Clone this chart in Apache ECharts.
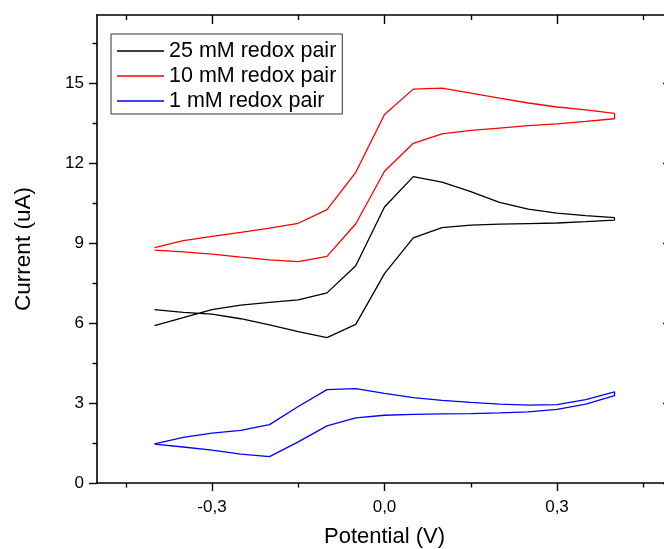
<!DOCTYPE html>
<html>
<head>
<meta charset="utf-8">
<script src="https://cdn.jsdelivr.net/npm/echarts@6/dist/echarts.min.js"></script>
<style>
html,body{margin:0;padding:0;background:#fff;}
#chart{width:664px;height:549px;}
</style>
</head>
<body>
<div id="chart"></div>
<script>
// Potential (V) sample points
const potentials = [-0.4, -0.35, -0.3, -0.25, -0.2, -0.15, -0.1, -0.05, 0, 0.05, 0.1, 0.15, 0.2, 0.25, 0.3, 0.35, 0.4];

// 25 mM redox pair (black)
const mM25Forward = [5.9, 6.2, 6.5, 6.67, 6.77, 6.87, 7.13, 8.15, 10.35, 11.49, 11.28, 10.93, 10.52, 10.27, 10.12, 10.03, 9.95];
const mM25Reverse = [6.5, 6.4, 6.33, 6.16, 5.93, 5.68, 5.45, 5.95, 7.85, 9.19, 9.58, 9.67, 9.71, 9.73, 9.75, 9.8, 9.86];

// 10 mM redox pair (red)
const mM10Forward = [8.83, 9.09, 9.25, 9.4, 9.56, 9.74, 10.25, 11.65, 13.82, 14.77, 14.81, 14.62, 14.43, 14.25, 14.1, 13.99, 13.86];
const mM10Reverse = [8.73, 8.67, 8.58, 8.47, 8.37, 8.3, 8.5, 9.72, 11.69, 12.74, 13.09, 13.22, 13.31, 13.4, 13.47, 13.56, 13.66];

// 1 mM redox pair (blue)
const mM1Upper = [1.47, 1.71, 1.87, 1.97, 2.19, 2.87, 3.5, 3.54, 3.36, 3.2, 3.1, 3.02, 2.96, 2.92, 2.94, 3.13, 3.42];
const mM1Lower = [1.46, 1.35, 1.23, 1.08, 0.99, 1.54, 2.14, 2.44, 2.54, 2.57, 2.59, 2.6, 2.63, 2.67, 2.76, 2.96, 3.28];

const seriesNames = ['25 mM redox pair', '10 mM redox pair', '1 mM redox pair'];
const seriesColors = ['#000000', '#ff0000', '#0000ff'];

// Axis ticks
const xMajorTicks = [-0.3, 0, 0.3];
const xMinorTicks = [-0.45, -0.15, 0.15, 0.45];
const yMajorTicks = [0, 3, 6, 9, 12, 15];
const yMinorTicks = [1.5, 4.5, 7.5, 10.5, 13.5, 16.5];

function loopData(first, second) {
  const pts = potentials.map((p, i) => [p, first[i]]);
  for (let i = potentials.length - 1; i >= 0; i--) pts.push([potentials[i], second[i]]);
  return pts;
}

const FONT = '"Liberation Sans", Arial, sans-serif';
const X_MIN = -0.5, X_MAX = 0.5, Y_MIN = 0, Y_MAX = 17.55;
const lineStyleAxis = { color: '#000', width: 1.6 };

function xAx(position, ticks, len, inside, opts) {
  return Object.assign({
    type: 'value', position: position, min: X_MIN, max: X_MAX,
    axisLine: { show: false, onZero: false, lineStyle: lineStyleAxis },
    axisTick: { show: true, inside: inside, length: len, customValues: ticks, lineStyle: { color: '#000', width: 1.4 } },
    axisLabel: { show: false },
    splitLine: { show: false }
  }, opts || {});
}
function yAx(position, ticks, len, inside, opts) {
  return Object.assign({
    type: 'value', position: position, min: Y_MIN, max: Y_MAX,
    axisLine: { show: false, onZero: false, lineStyle: lineStyleAxis },
    axisTick: { show: true, inside: inside, length: len, customValues: ticks, lineStyle: { color: '#000', width: 1.4 } },
    axisLabel: { show: false },
    splitLine: { show: false }
  }, opts || {});
}

const chart = echarts.init(document.getElementById('chart'), null, { renderer: 'canvas' });
chart.setOption({
  animation: false,
  backgroundColor: '#fff',
  textStyle: { fontFamily: FONT },
  grid: { left: 97, right: -8, top: 15, bottom: 66, containLabel: false, outerBoundsMode: 'none' },
  legend: {
    data: seriesNames,
    orient: 'vertical',
    left: 111, top: 34,
    borderColor: '#333', borderWidth: 1,
    padding: [6, 6, 2, 6],
    itemGap: 3,
    icon: 'rect',
    itemWidth: 47, itemHeight: 1.3,
    textStyle: { fontSize: 21.5, color: '#000', fontFamily: FONT, lineHeight: 22 }
  },
  xAxis: [
    xAx('bottom', xMajorTicks, 8, false, {
      axisLine: { show: true, onZero: false, lineStyle: lineStyleAxis },
      axisLabel: { show: true, customValues: xMajorTicks, fontSize: 17, color: '#000', margin: 16, fontFamily: FONT,
        formatter: v => v.toFixed(1).replace('.', ',') },
      name: 'Potential (V)', nameLocation: 'middle', nameGap: 43,
      nameTextStyle: { fontSize: 22, color: '#000', fontFamily: FONT }
    }),
    xAx('bottom', xMinorTicks, 4.5, false),
    xAx('top', xMajorTicks, 9, true, { axisLine: { show: true, onZero: false, lineStyle: lineStyleAxis } }),
    xAx('top', xMinorTicks, 5, true)
  ],
  yAxis: [
    yAx('left', yMajorTicks, 8, false, {
      axisLine: { show: true, onZero: false, lineStyle: lineStyleAxis },
      axisLabel: { show: true, customValues: yMajorTicks, fontSize: 17, color: '#000', margin: 13, fontFamily: FONT },
      name: 'Current (uA)', nameLocation: 'middle', nameGap: 62, nameRotate: 90,
      nameTextStyle: { fontSize: 22.5, color: '#000', fontFamily: FONT }
    }),
    yAx('left', yMinorTicks, 4.5, false),
    yAx('right', yMajorTicks, 9, true, { axisLine: { show: true, onZero: false, lineStyle: lineStyleAxis } }),
    yAx('right', yMinorTicks, 5, true)
  ],
  series: [
    { name: seriesNames[0], type: 'line', xAxisIndex: 0, yAxisIndex: 0, symbol: 'none', color: seriesColors[0],
      lineStyle: { width: 1.3, color: seriesColors[0] }, data: loopData(mM25Forward, mM25Reverse) },
    { name: seriesNames[1], type: 'line', xAxisIndex: 0, yAxisIndex: 0, symbol: 'none', color: seriesColors[1],
      lineStyle: { width: 1.3, color: seriesColors[1] }, data: loopData(mM10Forward, mM10Reverse) },
    { name: seriesNames[2], type: 'line', xAxisIndex: 0, yAxisIndex: 0, symbol: 'none', color: seriesColors[2],
      lineStyle: { width: 1.3, color: seriesColors[2] }, data: loopData(mM1Upper, mM1Lower) }
  ]
});
</script>
</body>
</html>
